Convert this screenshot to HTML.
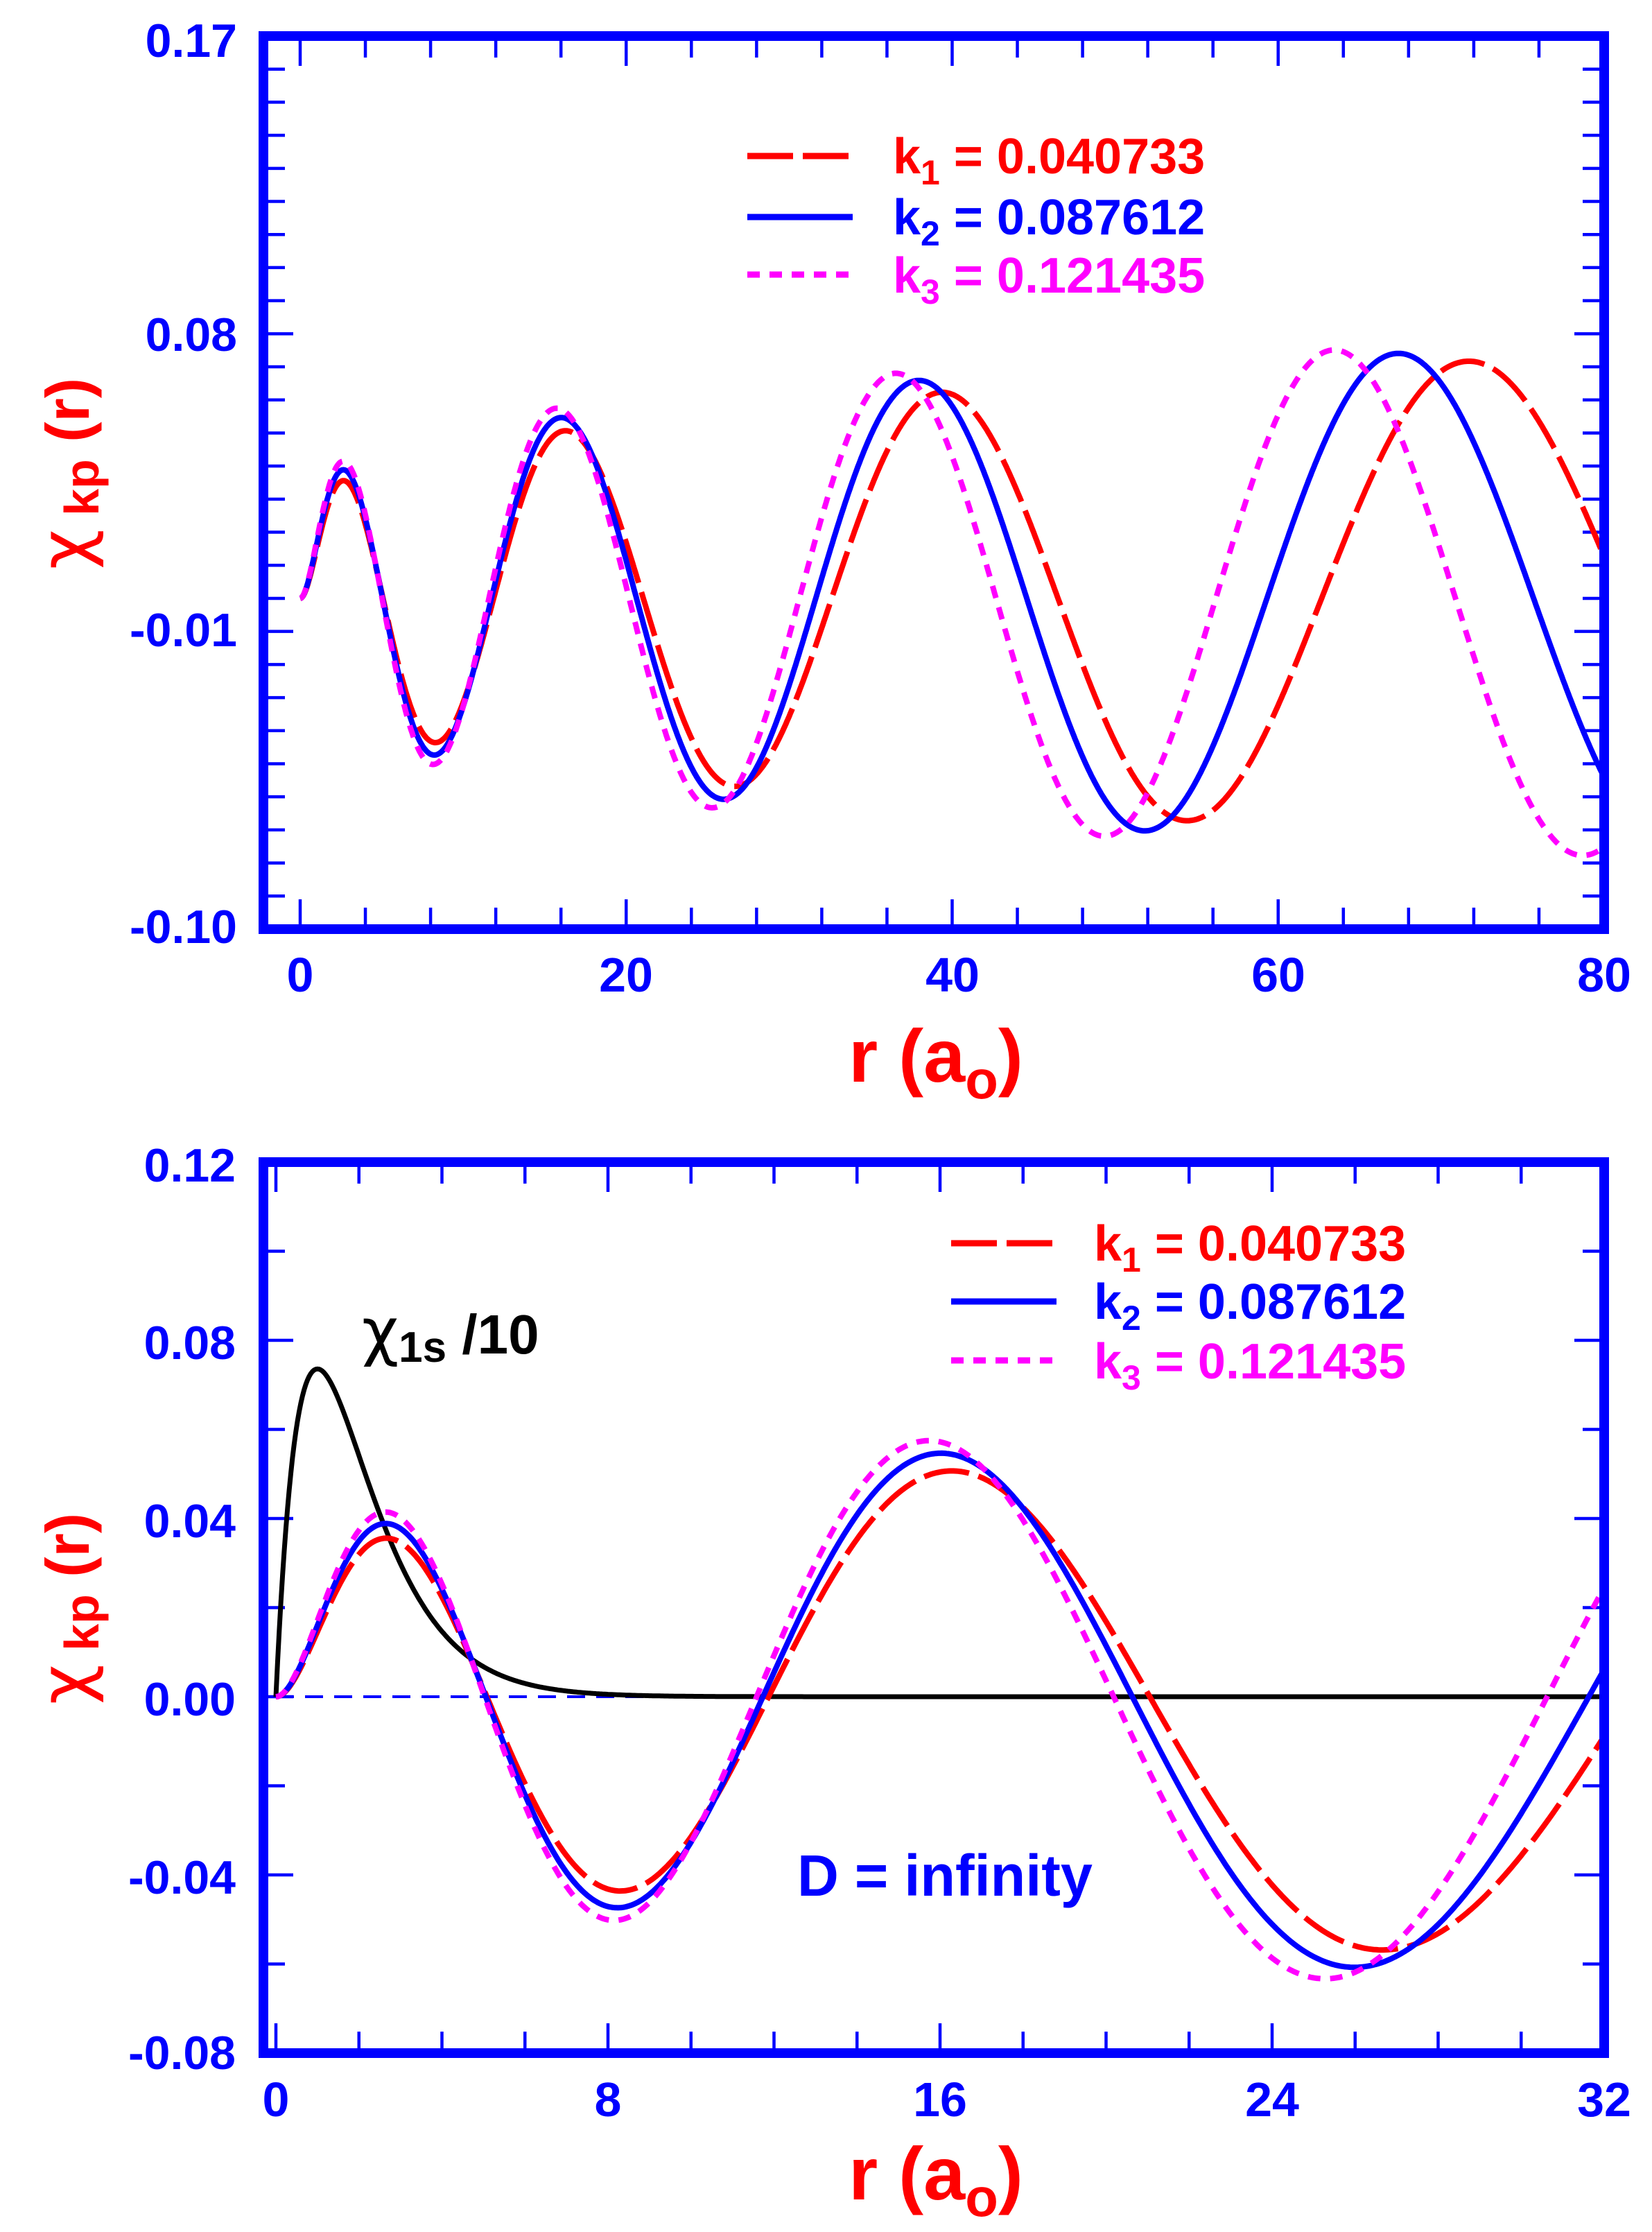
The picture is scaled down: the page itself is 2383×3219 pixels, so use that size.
<!DOCTYPE html>
<html><head><meta charset="utf-8"><style>
html,body{margin:0;padding:0;background:#fff}
svg{display:block}
text{font-family:"Liberation Sans",sans-serif;font-weight:bold}
</style></head><body>
<svg id="s" xmlns="http://www.w3.org/2000/svg" width="2383" height="3219" viewBox="0 0 2383 3219">
<defs>
<clipPath id="c1"><rect x="387" y="59" width="1920" height="1274"/></clipPath>
<clipPath id="c2"><rect x="387" y="1683" width="1920" height="1271"/></clipPath>
</defs>
<rect width="2383" height="3219" fill="#fff"/>
<g id="ticks" stroke="#0000ff" stroke-width="4.5"></g>
<g id="curves" fill="none" stroke-linejoin="round"></g>
<rect x="380" y="52" width="1934" height="1288" fill="none" stroke="#0000ff" stroke-width="14"/>
<rect x="380" y="1676" width="1934" height="1285" fill="none" stroke="#0000ff" stroke-width="14"/>

<g fill="#0000ff" font-size="68" text-anchor="end">
<text x="342" y="82">0.17</text>
<text x="342" y="506">0.08</text>
<text x="342" y="932">-0.01</text>
<text x="342" y="1360">-0.10</text>
</g>
<g fill="#0000ff" font-size="70" text-anchor="middle">
<text x="433" y="1430">0</text>
<text x="903" y="1430">20</text>
<text x="1374" y="1430">40</text>
<text x="1844" y="1430">60</text>
<text x="2314" y="1430">80</text>
</g>
<text x="1350" y="1560" fill="#ff0000" font-size="108" text-anchor="middle">r (a<tspan font-size="78" dy="24">o</tspan><tspan dy="-24">)</tspan></text>
<text transform="translate(128,683) rotate(-90)" fill="#ff0000" font-size="88" text-anchor="middle"><tspan font-family="'DejaVu Sans',sans-serif" font-weight="normal" font-size="100">χ</tspan><tspan font-size="70" dy="14"> kp</tspan><tspan dy="-14">  (r)</tspan></text>

<line x1="1078" y1="225" x2="1230" y2="225" stroke="#ff0000" stroke-width="9" stroke-dasharray="66,14"/>
<line x1="1078" y1="313" x2="1230" y2="313" stroke="#0000ff" stroke-width="9"/>
<line x1="1078" y1="396" x2="1230" y2="396" stroke="#ff00ff" stroke-width="9" stroke-dasharray="18,14"/>
<g font-size="72">
<text x="1288" y="250" fill="#ff0000">k<tspan font-size="50" dy="16">1</tspan><tspan dy="-16"> = 0.040733</tspan></text>
<text x="1288" y="338" fill="#0000ff">k<tspan font-size="50" dy="16">2</tspan><tspan dy="-16"> = 0.087612</tspan></text>
<text x="1288" y="422" fill="#ff00ff">k<tspan font-size="50" dy="16">3</tspan><tspan dy="-16"> = 0.121435</tspan></text>
</g>

<g fill="#0000ff" font-size="68" text-anchor="end">
<text x="340" y="1704">0.12</text>
<text x="340" y="1960">0.08</text>
<text x="340" y="2217">0.04</text>
<text x="340" y="2474">0.00</text>
<text x="340" y="2731">-0.04</text>
<text x="340" y="2984">-0.08</text>
</g>
<g fill="#0000ff" font-size="70" text-anchor="middle">
<text x="398" y="3052">0</text>
<text x="877" y="3052">8</text>
<text x="1356" y="3052">16</text>
<text x="1835" y="3052">24</text>
<text x="2314" y="3052">32</text>
</g>
<text x="1350" y="3172" fill="#ff0000" font-size="108" text-anchor="middle">r (a<tspan font-size="78" dy="24">o</tspan><tspan dy="-24">)</tspan></text>
<text transform="translate(128,2320) rotate(-90)" fill="#ff0000" font-size="88" text-anchor="middle"><tspan font-family="'DejaVu Sans',sans-serif" font-weight="normal" font-size="100">χ</tspan><tspan font-size="70" dy="14"> kp</tspan><tspan dy="-14">  (r)</tspan></text>

<line x1="1372" y1="1793" x2="1524" y2="1793" stroke="#ff0000" stroke-width="9" stroke-dasharray="66,14"/>
<line x1="1372" y1="1877" x2="1524" y2="1877" stroke="#0000ff" stroke-width="9"/>
<line x1="1372" y1="1962" x2="1524" y2="1962" stroke="#ff00ff" stroke-width="9" stroke-dasharray="18,14"/>
<g font-size="72">
<text x="1578" y="1818" fill="#ff0000">k<tspan font-size="50" dy="16">1</tspan><tspan dy="-16"> = 0.040733</tspan></text>
<text x="1578" y="1902" fill="#0000ff">k<tspan font-size="50" dy="16">2</tspan><tspan dy="-16"> = 0.087612</tspan></text>
<text x="1578" y="1988" fill="#ff00ff">k<tspan font-size="50" dy="16">3</tspan><tspan dy="-16"> = 0.121435</tspan></text>
</g>
<text x="522" y="1952" fill="#000" font-size="80"><tspan font-family="'DejaVu Sans',sans-serif" font-weight="normal" font-size="92">χ</tspan><tspan font-size="62" dy="12">1s</tspan><tspan dy="-12"> /10</tspan></text>
<text x="1150" y="2734" fill="#0000ff" font-size="84" textLength="426" lengthAdjust="spacingAndGlyphs">D = infinity</text>
</svg>
<script>
(function(){
var NS="http://www.w3.org/2000/svg";
var tg=document.getElementById('ticks'), cg=document.getElementById('curves');
function L(g,x1,y1,x2,y2,attrs){var l=document.createElementNS(NS,'line');l.setAttribute('x1',x1);l.setAttribute('y1',y1);l.setAttribute('x2',x2);l.setAttribute('y2',y2);if(attrs)for(var k in attrs)l.setAttribute(k,attrs[k]);g.appendChild(l);}
var T={x0:433,x1:2314,r1:80,y0:52,y1:1340,v0:0.17,v1:-0.10};
var B={x0:398,x1:2314,r1:32,y0:1676,y1:2961,v0:0.12,v1:-0.08};
function X(P,r){return P.x0+(P.x1-P.x0)*r/P.r1;}
function Y(P,v){return P.y0+(P.y1-P.y0)*(P.v0-v)/(P.v0-P.v1);}
for(var i=0;i<=20;i++){var r=i*4,x=X(T,r),len=(r%20==0)?36:24;
 L(tg,x,1333,x,1333-len);L(tg,x,59,x,59+len);}
for(var i=0;i<=27;i++){var v=0.17-i*0.01,y=Y(T,v),len=(i%9==0)?36:24;
 L(tg,387,y,387+len,y);L(tg,2307,y,2307-len,y);}
for(var i=0;i<=16;i++){var r=i*2,x=X(B,r),len=(r%8==0)?36:24;
 L(tg,x,2954,x,2954-len);L(tg,x,1683,x,1683+len);}
for(var i=0;i<=10;i++){var v=0.12-i*0.02,y=Y(B,v),len=(i%2==0)?36:24;
 L(tg,387,y,387+len,y);L(tg,2307,y,2307-len,y);}
function J3(z){var N=120,s=0;for(var i=0;i<=N;i++){var t=Math.PI*i/N,w=(i==0||i==N)?0.5:1;s+=w*Math.cos(3*t-z*Math.sin(t));}return s/N;}
function u(r,k,A){if(r<=0)return 0;var s=Math.sqrt(r);var z=s*Math.sqrt(k*k*r+2)+(2/k)*Math.asinh(k*s/Math.SQRT2);
 return A*s*J3(z)*Math.sqrt(z/Math.sqrt(8*r))*Math.pow(1+k*k*r/2,-0.25);}
var C=[{k:0.040733,A:0.0525,c:'#ff0000',d:'66,14'},{k:0.087612,A:0.0575,c:'#0000ff',d:null},{k:0.121435,A:0.0615,c:'#ff00ff',d:'18,14'}];
function path(P,f,n,clip,col,dash,w){var d='';for(var i=0;i<=n;i++){var r=P.r1*i/n;d+=(i?'L':'M')+X(P,r).toFixed(1)+','+Y(P,f(r)).toFixed(1);}
 var p=document.createElementNS(NS,'path');p.setAttribute('d',d);p.setAttribute('stroke',col);p.setAttribute('stroke-width',w||8);p.setAttribute('clip-path','url(#'+clip+')');if(dash)p.setAttribute('stroke-dasharray',dash);cg.appendChild(p);}
L(cg,398,Y(B,0),2307,Y(B,0),{stroke:'#0000ff','stroke-width':4,'stroke-dasharray':'26,16'});
path(B,function(r){return 0.2*r*Math.exp(-r);},800,'c2','#000',null,7);
for(var j=0;j<3;j++){(function(c){
 path(T,function(r){return u(r,c.k,c.A);},1200,'c1',c.c,c.d);
 path(B,function(r){return u(r,c.k,c.A);},800,'c2',c.c,c.d);
})(C[j]);}
})();
</script>
</body></html>
